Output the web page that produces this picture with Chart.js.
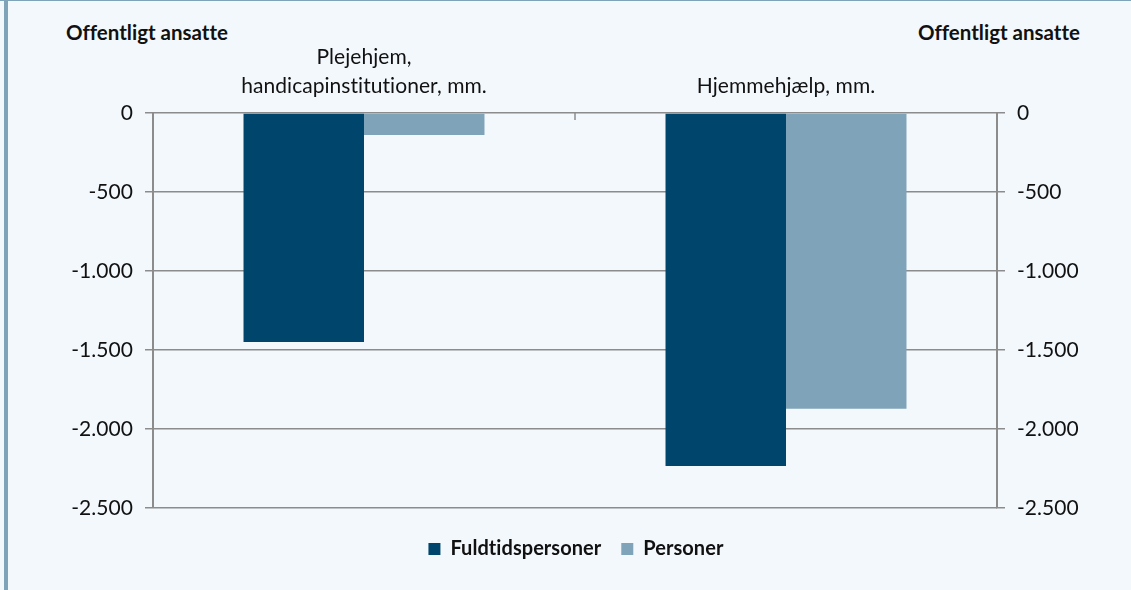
<!DOCTYPE html>
<html>
<head>
<meta charset="utf-8">
<script src="https://cdn.jsdelivr.net/npm/chart.js@4/dist/chart.umd.min.js"></script>
<style>
    body { margin: 0; background: #f3f8fc; font-family: Lato, sans-serif; overflow: hidden; }
    #wrap { position: relative; width: 1131px; height: 590px; }
    .edgeLeft { position: absolute; left: 4px; top: 0; width: 4px; height: 590px; background: #7fa3b8; }
    .edgeTop { position: absolute; left: 0; top: 0; width: 1131px; height: 1px; background: #7fa3b8; }
    .axisTitle { position: absolute; top: 20px; font-weight: bold; font-size: 20.5px; color: #111; white-space: nowrap; font-variant-ligatures: none; }
    canvas { position: absolute; left: 0; top: 0; }
</style>
</head>
<body>
<div id="wrap">
    <div class="edgeTop"></div>
    <div class="edgeLeft"></div>
    <div class="axisTitle" style="left:66px">Offentligt ansatte</div>
    <div class="axisTitle" style="left:918px">Offentligt ansatte</div>
    <canvas id="chart" width="1131" height="590"></canvas>
</div>
<script>
// Data
const categories = [['Plejehjem,', 'handicapinstitutioner, mm.'], 'Hjemmehjælp, mm.'];
const fuldtidspersoner = [-1450, -2235];
const personer = [-140, -1872];
const yTicks = [0, -500, -1000, -1500, -2000, -2500];

function formatNumber(v) {
    const s = Math.abs(v).toString().replace(/\B(?=(\d{3})+(?!\d))/g, '.');
    return (v < 0 ? '-' : '') + s;
}

// small tick marks between categories, pointing into the plot
const categoryTicks = {
    id: 'categoryTicks',
    afterLayout(chart) {
        // legend row includes a trailing padding, nudge it back to center
        chart.legend.left += 10;
        chart.legend.right += 10;
    },
    beforeDraw(chart) {
        // tiny letter spacing switches off the "ti" ligature in Lato
        chart.ctx.letterSpacing = '0.05px';
    },
    afterDatasetsDraw(chart) {
        const x = chart.scales.x;
        const ctx = chart.ctx;
        const top = chart.chartArea.top;
        ctx.save();
        ctx.strokeStyle = '#8c8c8c';
        ctx.lineWidth = 1.5;
        for (let i = 1; i < categories.length; i++) {
            const px = (x.getPixelForValue(i - 1) + x.getPixelForValue(i)) / 2;
            ctx.beginPath();
            ctx.moveTo(px, top);
            ctx.lineTo(px, top + 7);
            ctx.stroke();
        }
        ctx.restore();
    }
};

const yAxis = function(position, width, grid) {
    return {
        position: position,
        min: -2500,
        max: 0,
        afterBuildTicks: function(scale) {
            scale.ticks = yTicks.map(v => ({ value: v }));
        },
        afterFit: function(scale) {
            scale.width = width;
        },
        border: { display: true, color: '#8c8c8c', width: 2 },
        grid: {
            display: true,
            drawOnChartArea: grid,
            color: '#8c8c8c',
            lineWidth: 1.5,
            tickLength: 8
        },
        ticks: {
            padding: 12,
            color: '#111',
            font: { family: 'Lato', size: 21 },
            callback: function(value) {
                return formatNumber(value);
            }
        }
    };
};

new Chart(document.getElementById('chart'), {
    type: 'bar',
    data: {
        labels: categories,
        datasets: [{
            label: 'Fuldtidspersoner',
            data: fuldtidspersoner,
            backgroundColor: '#00456b',
            categoryPercentage: 0.571,
            barPercentage: 1.0
        }, {
            label: 'Personer',
            data: personer,
            backgroundColor: '#7fa3b8',
            categoryPercentage: 0.571,
            barPercentage: 1.0
        }]
    },
    options: {
        responsive: false,
        animation: false,
        layout: { padding: { left: 0, right: 0, top: 0, bottom: 21 } },
        plugins: {
            legend: {
                position: 'bottom',
                title: { display: true, text: '', font: { size: 1 }, padding: { top: 10, bottom: 0 } },
                labels: {
                    boxWidth: 12,
                    boxHeight: 12,
                    padding: 20,
                    color: '#111',
                    font: { family: 'Lato', size: 20, weight: 'bold' }
                }
            },
            tooltip: { enabled: false }
        },
        scales: {
            x: {
                position: 'top',
                afterFit: function(scale) {
                    scale.height = 113;
                },
                border: { display: false },
                grid: { display: false, drawTicks: false },
                ticks: {
                    padding: 12,
                    color: '#111',
                    font: { family: 'Lato', size: 21, lineHeight: 1.4 },
                    maxRotation: 0
                }
            },
            y: yAxis('left', 153, true),
            y2: yAxis('right', 134, false)
        }
    },
    plugins: [categoryTicks]
});
</script>
</body>
</html>
